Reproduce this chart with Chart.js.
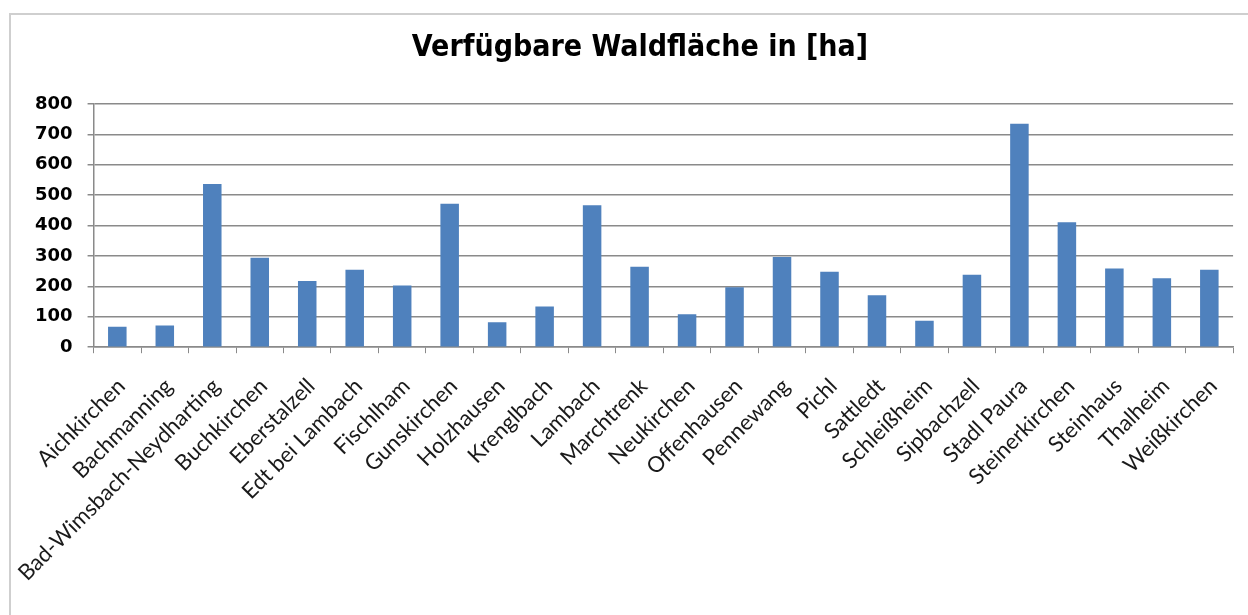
<!DOCTYPE html>
<html>
<head>
<meta charset="utf-8">
<script src="https://cdn.jsdelivr.net/npm/chart.js@4.4.1/dist/chart.umd.min.js"></script>
<style>
  body { margin: 0; background: #fff; overflow: hidden; }
  .frame {
    position: absolute; left: 9px; top: 13px; width: 1300px; height: 700px;
    border-left: 2px solid #cfcfcf; border-top: 2px solid #cfcfcf;
  }
  #chart { position: absolute; left: 0; top: 0; }
</style>
</head>
<body>
<div class="frame"></div>
<canvas id="chart" width="1248" height="615"></canvas>
<script>
// Gemeinden
const gemeinden = [
  "Aichkirchen", "Bachmanning", "Bad-Wimsbach-Neydharting", "Buchkirchen",
  "Eberstalzell", "Edt bei Lambach", "Fischlham", "Gunskirchen",
  "Holzhausen", "Krenglbach", "Lambach", "Marchtrenk",
  "Neukirchen", "Offenhausen", "Pennewang", "Pichl",
  "Sattledt", "Schleißheim", "Sipbachzell", "Stadl Paura",
  "Steinerkirchen", "Steinhaus", "Thalheim", "Weißkirchen"
];

// Waldfläche in ha
const waldflaeche = [
  67, 71, 537, 294,
  218, 255, 203, 472,
  82, 134, 467, 265,
  108, 197, 297, 248,
  171, 87, 238, 735,
  411, 259, 227, 255
];

const yMin = 0;
const yMax = 800;
const yStep = 100;

const axisGray = "#8a8a8a";

const ctx = document.getElementById("chart").getContext("2d");
const myChart = new Chart(ctx, {
  type: "bar",
  data: {
    labels: gemeinden,
    datasets: [
      {
        label: "Waldfläche",
        data: waldflaeche,
        backgroundColor: "#4F81BD",
        borderWidth: 0,
        barPercentage: 0.39,
        categoryPercentage: 1,
      },
    ],
  },
  options: {
    responsive: false,
    animation: false,
    layout: {
      padding: { top: 20, left: 20, right: -12, bottom: 9 },
    },
    plugins: {
      legend: { display: false },
      tooltip: { enabled: false },
      title: {
        display: true,
        text: "Verfügbare Waldfläche in [ha]",
        color: "#000",
        font: { family: "'DejaVu Sans Condensed', 'DejaVu Sans', sans-serif", size: 30, weight: "bold" },
        padding: { top: 10, bottom: 38 },
      },
    },
    scales: {
      y: {
        min: yMin,
        max: yMax,
        ticks: {
          stepSize: yStep,
          color: "#000",
          padding: 15,
          font: { family: "'DejaVu Sans', sans-serif", size: 18, weight: "bold" },
        },
        grid: {
          color: axisGray,
          lineWidth: 1.5,
          tickLength: 6,
        },
        border: { color: axisGray, width: 1.5 },
      },
      x: {
        ticks: {
          color: "#1a1a1a",
          maxRotation: 45,
          minRotation: 45,
          autoSkip: false,
          padding: 20,
          labelOffset: 4,
          font: { family: "Lato, 'Open Sans', sans-serif", size: 22 },
        },
        grid: {
          color: axisGray,
          lineWidth: 1,
          drawOnChartArea: false,
          tickLength: 6,
        },
        border: { color: axisGray, width: 1.5 },
      },
    },
  },
});
</script>
</body>
</html>
